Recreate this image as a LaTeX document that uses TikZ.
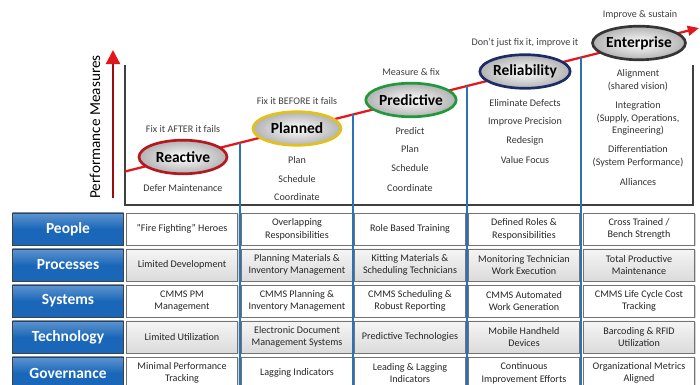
\documentclass[tikz,border=0pt]{standalone}
\usepackage{fontspec}
\setmainfont{Carlito}
\usetikzlibrary{shapes.geometric,arrows.meta,shadows}
\definecolor{trendred}{HTML}{E3161B}
\definecolor{axisred}{HTML}{9E0B0F}
\definecolor{colblue}{HTML}{2C72B8}
\definecolor{labblue}{HTML}{1A67BA}
\definecolor{reactc}{HTML}{B3191F}
\definecolor{plannc}{HTML}{E2C21A}
\definecolor{predc}{HTML}{22983C}
\definecolor{relic}{HTML}{1D2B66}
\definecolor{entc}{HTML}{353535}
\tikzset{
  stage/.style={ellipse,draw,line width=1.9pt,inner sep=0pt,minimum width=2.2cm,minimum height=0.84cm,
    inner color=white,outer color=gray!60,font=\bfseries\fontsize{11}{13}\selectfont},
  motto/.style={font=\fontsize{7.2}{8.6}\selectfont,text=black!75},
  item/.style={font=\fontsize{7.2}{9}\selectfont,text=black!80,align=center},
  rowlabel/.style={draw=black!75,top color=labblue!70!white,bottom color=labblue,middle color=labblue,
    minimum width=2.78cm,minimum height=0.8cm,inner sep=0pt,text=white,font=\bfseries\fontsize{11}{13}\selectfont},
  cellw/.style={draw=black!55,fill=white,minimum width=2.775cm,minimum height=0.8cm,inner sep=1pt,
    align=center,font=\fontsize{7.2}{9}\selectfont,text=black!85,
    drop shadow={shadow xshift=0.8pt,shadow yshift=-0.8pt,opacity=0.35}},
  cellg/.style={cellw,top color=gray!8,bottom color=gray!28},
  colline/.style={colblue,line width=1.4pt},
  frame/.style={black!75,line width=0.9pt}
}
\begin{document}
\begin{tikzpicture}[x=0.025cm,y=-0.025cm]
\useasboundingbox (0,0) rectangle (700,385);
% axis and frame
\draw[axisred,line width=1.5pt,-{Triangle[length=10pt,width=10pt,color=trendred]}] (113,198)--(113,50);
\node[rotate=90,font=\fontsize{10.8}{12}\selectfont] (perf) at (95,127) {Performance Measures};
\draw[frame] (125,65)--(125,205)--(693,205)--(693,65);
% trend line and column dividers
\coordinate (tstart) at (125,171.5);
\coordinate (ttip) at (699,28);
\coordinate (bottom) at (0,390);
\coordinate (d1) at (240,142.8);
\coordinate (d2) at (353,114.5);
\coordinate (d3) at (467,86);
\coordinate (d4) at (581,57.5);
\draw[trendred,line width=1.6pt,-{Triangle[length=8pt,width=7pt]}] (tstart)--(ttip);
\foreach \d in {d1,d2,d3,d4}
  \draw[colline] (\d)--(\d |- bottom);
% stages
\node[stage,draw=reactc] (react) at (183,157) {Reactive};
\node[stage,draw=plannc] (plan) at (297,128.5) {Planned};
\node[stage,draw=predc] (pred) at (411,100) {Predictive};
\node[stage,draw=relic] (reli) at (525,71.5) {Reliability};
\node[stage,draw=entc] (ent) at (639,43) {Enterprise};
\node[motto] (react-m) at (183,129) {Fix it AFTER it fails};
\node[motto] (plan-m) at (297,101) {Fix it BEFORE it fails};
\node[motto] (pred-m) at (411,72) {Measure \& fix};
\node[motto] (reli-m) at (525,43) {Don't just fix it, improve it};
\node[motto] (ent-m) at (640,15) {Improve \& sustain};
% stage practices
\node[item] (react-1) at (183,188) {Defer Maintenance};
\foreach \t/\y [count=\i] in {Plan/160,Schedule/179,Coordinate/197}
  \node[item] (plan-\i) at (297,\y) {\t};
\foreach \t/\y [count=\i] in {Predict/131,Plan/149,Schedule/168,Coordinate/188}
  \node[item] (pred-\i) at (410,\y) {\t};
\foreach \t/\y [count=\i] in {Eliminate Defects/103,Improve Precision/122,Redesign/141,Value Focus/160}
  \node[item] (reli-\i) at (525,\y) {\t};
\node[item] (ent-1) at (638,80.5) {Alignment\\(shared vision)};
\node[item] (ent-2) at (638,118.5) {Integration\\(Supply, Operations,\\Engineering)};
\node[item] (ent-3) at (638,156) {Differentiation\\(System Performance)};
\node[item] (ent-4) at (638,182) {Alliances};
% maturity table
\node[rowlabel] (people) at (68,229) {People};
\foreach \x/\t [count=\c] in {182/{"Fire Fighting" Heroes},297/{Overlapping\\Responsibilities},410/{Role Based Training},524/{Defined Roles \&\\Responsibilities},639/{Cross Trained /\\Bench Strength}}
  \node[cellw] (people-\c) at (\x,229) {\t};
\node[rowlabel] (proc) at (68,265) {Processes};
\foreach \x/\t [count=\c] in {182/{Limited Development},297/{Planning Materials \&\\Inventory Management},410/{Kitting Materials \&\\Scheduling Technicians},524/{Monitoring Technician\\Work Execution},639/{Total Productive\\Maintenance}}
  \node[cellg] (proc-\c) at (\x,265) {\t};
\node[rowlabel] (sys) at (68,301) {Systems};
\foreach \x/\t [count=\c] in {182/{CMMS PM\\Management},297/{CMMS Planning \&\\Inventory Management},410/{CMMS Scheduling \&\\Robust Reporting},524/{CMMS Automated\\Work Generation},639/{CMMS Life Cycle Cost\\Tracking}}
  \node[cellw] (sys-\c) at (\x,301) {\t};
\node[rowlabel] (tech) at (68,337) {Technology};
\foreach \x/\t [count=\c] in {182/{Limited Utilization},297/{Electronic Document\\Management Systems},410/{Predictive Technologies},524/{Mobile Handheld\\Devices},639/{Barcoding \& RFID\\Utilization}}
  \node[cellg] (tech-\c) at (\x,337) {\t};
\node[rowlabel] (gov) at (68,373) {Governance};
\foreach \x/\t [count=\c] in {182/{Minimal Performance\\Tracking},297/{Lagging Indicators},410/{Leading \& Lagging\\Indicators},524/{Continuous\\Improvement Efforts},639/{Organizational Metrics\\Aligned}}
  \node[cellw] (gov-\c) at (\x,373) {\t};
% dividers over the table
\foreach \d in {d1,d2,d3,d4}
  \draw[colline] (\d |- people.north)--(\d |- bottom);
\end{tikzpicture}
\end{document}
